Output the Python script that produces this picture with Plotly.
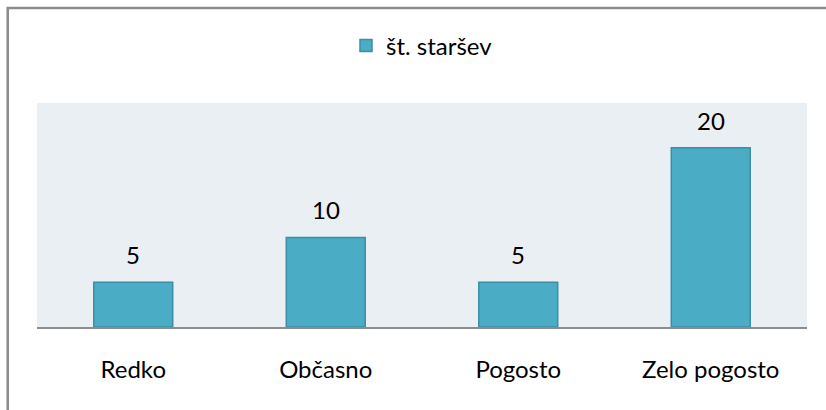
import plotly.graph_objects as go

categories = ["Redko", "Občasno", "Pogosto", "Zelo pogosto"]
values = [5, 10, 5, 20]
series_name = "št. staršev"

FONT = "Lato"
FS = 24

fig = go.Figure()
fig.add_trace(go.Bar(
    x=categories, y=values, name=series_name,
    marker=dict(color="#4BACC6", line=dict(color="#3B8EA5", width=1.5)),
    width=0.41,
    showlegend=True,
))

for c, v in zip(categories, values):
    fig.add_annotation(x=c, y=v, text=str(v), showarrow=False, yanchor="bottom",
                       yshift=11, font=dict(family=FONT, size=FS, color="#000000"))

fig.update_layout(
    width=826, height=410,
    margin=dict(l=37, r=19, t=103, b=83),
    paper_bgcolor="#FFFFFF",
    plot_bgcolor="#E9EFF3",
    font=dict(family=FONT, size=FS, color="#000000"),
    showlegend=True,
    legend=dict(orientation="h", x=0.5, xanchor="center", y=1.255, yanchor="middle",
                font=dict(family=FONT, size=FS), itemwidth=30, bgcolor="rgba(0,0,0,0)"),
    xaxis=dict(showgrid=False, showline=True, linecolor="#8C8C8C", linewidth=2,
               ticks="", ticklabelstandoff=20, tickfont=dict(family=FONT, size=FS)),
    yaxis=dict(range=[0, 25], showgrid=False, showticklabels=False, zeroline=False,
               showline=False, ticks=""),
    shapes=[dict(type="rect", xref="paper", yref="paper",
                 x0=-0.038, x1=1.2, y0=-0.6, y1=1.424,
                 line=dict(color="#8C8C8C", width=2.5), fillcolor="rgba(0,0,0,0)", layer="below")],
)

fig.write_html("out.html", config={"displayModeBar": False},
               post_script="document.body.style.margin='0';document.body.style.overflow='hidden';")
